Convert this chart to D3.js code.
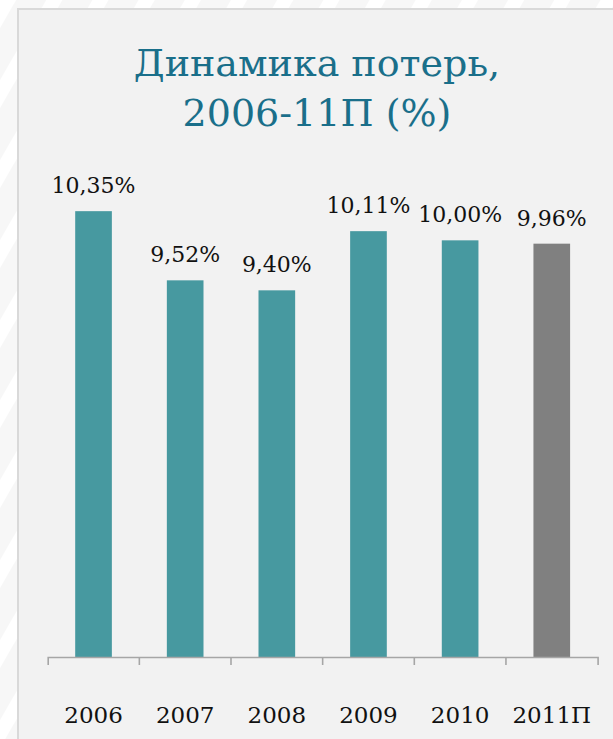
<!DOCTYPE html>
<html>
<head>
<meta charset="utf-8">
<script src="https://cdn.jsdelivr.net/npm/d3@7"></script>
<style>
  html, body { margin: 0; padding: 0; background: #ffffff; }
  svg { display: block; }
</style>
</head>
<body>
<svg id="chart" width="613" height="739"></svg>
<script>
// Loss dynamics by year, percent
const years = ["2006", "2007", "2008", "2009", "2010", "2011П"];
const lossValues = [10.35, 9.52, 9.40, 10.11, 10.00, 9.96];
const forecastYears = ["2011П"];
const titleLines = ["Динамика потерь,", "2006-11П (%)"];
const yDomain = [5, 11];

const W = 613, H = 739;
const svg = d3.select("#chart");
const serif = "'DejaVu Serif', 'Liberation Serif', serif";

// Slide background with faint diagonal stripes
const defs = svg.append("defs");
const pat = defs.append("pattern")
  .attr("id", "stripes")
  .attr("patternUnits", "userSpaceOnUse")
  .attr("width", 40).attr("height", 40)
  .attr("patternTransform", "rotate(30)");
pat.append("rect").attr("width", 40).attr("height", 40).attr("fill", "#f7f7f7");
pat.append("rect").attr("x", 0).attr("width", 14).attr("height", 40).attr("fill", "#ffffff");
svg.append("rect").attr("width", W).attr("height", H).attr("fill", "url(#stripes)");

// Chart panel
svg.append("rect")
  .attr("x", 18).attr("y", 9)
  .attr("width", W + 20).attr("height", H + 20)
  .attr("fill", "#f2f2f2")
  .attr("stroke", "#d9d9d9")
  .attr("stroke-width", 2);

// Title
const title = svg.append("text")
  .attr("text-anchor", "middle")
  .attr("font-family", serif)
  .attr("font-size", 38)
  .attr("fill", "#1a6f8a");
titleLines.forEach((t, i) => {
  title.append("tspan").attr("x", 317).attr("y", 76 + i * 50).text(t);
});

// Scales
const x = d3.scaleBand()
  .domain(years)
  .range([47.7, 597.6])
  .paddingInner(0.6)
  .paddingOuter(0.3);

const baseY = 657;
const y = d3.scaleLinear().domain(yDomain).range([baseY, 157]);

const ruLocale = d3.formatLocale({ decimal: ",", thousands: " ", grouping: [3], currency: ["", ""] });
const fmt = ruLocale.format(".2f");

// Bars
svg.append("g").selectAll("rect")
  .data(years.map((yr, i) => ({ yr, v: lossValues[i] })))
  .join("rect")
  .attr("x", d => x(d.yr))
  .attr("y", d => y(d.v))
  .attr("width", x.bandwidth())
  .attr("height", d => y(yDomain[0]) - y(d.v))
  .attr("fill", d => forecastYears.includes(d.yr) ? "#808080" : "#4799a0");

// Value labels
svg.append("g").selectAll("text")
  .data(years.map((yr, i) => ({ yr, v: lossValues[i] })))
  .join("text")
  .attr("x", d => x(d.yr) + x.bandwidth() / 2)
  .attr("y", d => y(d.v) - 18)
  .attr("text-anchor", "middle")
  .attr("font-family", serif)
  .attr("font-size", 22)
  .attr("fill", "#111111")
  .text(d => fmt(d.v) + "%");

// Category axis
const axisG = svg.append("g")
  .attr("transform", `translate(0,${baseY})`)
  .call(d3.axisBottom(x).tickSize(0).tickSizeOuter(8).tickPadding(0));
axisG.select(".domain").attr("stroke", "#a6a6a6").attr("stroke-width", 1.6);
axisG.selectAll(".tick text")
  .attr("y", 66)
  .attr("dy", 0)
  .attr("font-family", serif)
  .attr("font-size", 23)
  .attr("fill", "#111111");

// Boundary ticks between categories
const bounds = years.slice(1).map(yr => x(yr) + x.bandwidth() / 2 - x.step() / 2);
axisG.selectAll(".sep")
  .data(bounds)
  .join("line")
  .attr("class", "sep")
  .attr("x1", d => d).attr("x2", d => d)
  .attr("y1", 0).attr("y2", 8)
  .attr("stroke", "#a6a6a6")
  .attr("stroke-width", 1.6);
</script>
</body>
</html>
